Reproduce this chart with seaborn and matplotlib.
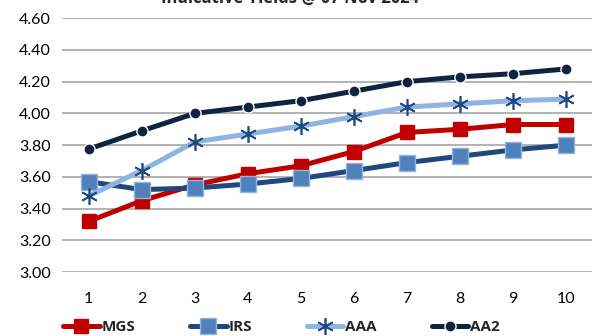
import numpy as np
import pandas as pd
import matplotlib
matplotlib.use("Agg")
import matplotlib.pyplot as plt
import seaborn as sns

# data
tenor = [1, 2, 3, 4, 5, 6, 7, 8, 9, 10]
mgs = [3.32, 3.45, 3.55, 3.62, 3.67, 3.76, 3.88, 3.90, 3.93, 3.93]
irs = [3.57, 3.52, 3.53, 3.555, 3.59, 3.64, 3.69, 3.73, 3.77, 3.80]
aaa = [3.48, 3.64, 3.82, 3.87, 3.92, 3.98, 4.04, 4.06, 4.08, 4.09]
aa2 = [3.775, 3.89, 4.00, 4.04, 4.08, 4.14, 4.20, 4.23, 4.25, 4.28]
y_ticks = [3.00, 3.20, 3.40, 3.60, 3.80, 4.00, 4.20, 4.40, 4.60]

sns.set_style("white")
plt.rcParams['font.family'] = ['Lato', 'DejaVu Sans']

fig = plt.figure(figsize=(5.92, 3.36), dpi=100)
ax = fig.add_axes([0.105, 0.19, 0.905, 0.756])

# series styles: (name, values, line colour, marker, marker face, marker edge, size)
series = [
    ("MGS", mgs, "#C00000", "s", "#C00000", "#C00000", 10),
    ("IRS", irs, "#1F497D", "s", "#4F81BD", "#95B3D7", 11),
    ("AAA", aaa, "#8DB4E2", (6, 2, 0), "#1F497D", "#1F497D", 12),
    ("AA2", aa2, "#0F243E", "o", "#0F243E", "#FFFFFF", 8),
]

for name, vals, col, mk, mfc, mec, ms in series:
    df = pd.DataFrame({"tenor": tenor, "yield": vals})
    sns.lineplot(data=df, x="tenor", y="yield", ax=ax, color=col, lw=3.6,
                 marker=mk, markersize=ms, markerfacecolor=mfc,
                 markeredgecolor=mec, markeredgewidth=1.0 if mk != (6, 2, 0) else 1.2,
                 label=name)

ax.set_xlim(0.5, 10.6)
ax.set_ylim(3.0, 4.6)
ax.set_xticks(tenor)
ax.set_yticks(y_ticks)
ax.set_yticklabels([f"{v:.2f}" for v in y_ticks])
ax.tick_params(axis='both', labelsize=11.5, colors="#000000", length=0, pad=8)
ax.tick_params(axis='x', pad=14)
ax.grid(axis='y', color="#A6A6A6", lw=1.2)
ax.set_axisbelow(True)
for s in ax.spines.values():
    s.set_visible(False)
ax.set_xlabel("")
ax.set_ylabel("")

ax.legend_.remove()
h, l = ax.get_legend_handles_labels()
fig.legend(h, l, loc='lower center', bbox_to_anchor=(0.475, -0.035), ncol=4,
           frameon=False, handlelength=2.4, columnspacing=3.6, handletextpad=0.1,
           prop={'family': ['Open Sans', 'DejaVu Sans'], 'weight': 'bold', 'size': 11})

fig.text(0.49, 0.99, "Indicative Yields @ 07 Nov 2024", ha='center', va='baseline',
         fontsize=12, fontweight='bold', family=['Open Sans', 'DejaVu Sans'])

fig.savefig("out.png", dpi=100)
